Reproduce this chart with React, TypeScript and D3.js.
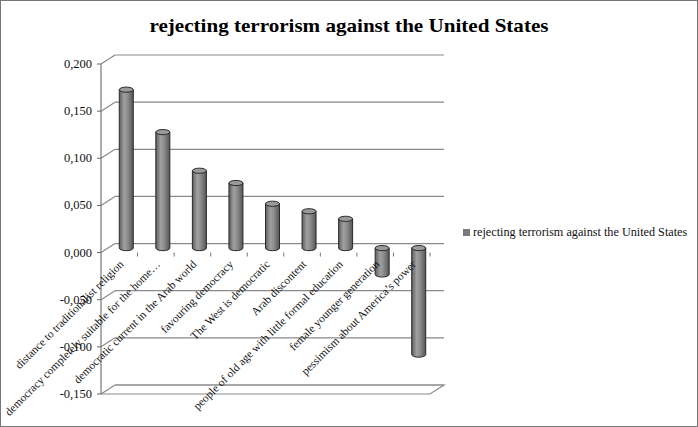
import React from "react";
import * as d3 from "d3";

const categories = [
  "distance to traditionalist religion",
  "democracy completely suitable for the home…",
  "democratic current in the Arab world",
  "favouring democracy",
  "The West is democratic",
  "Arab discontent",
  "people of old age with little formal education",
  "female younger generation",
  "pessimism about America’s power",
];
const values = [0.168, 0.123, 0.082, 0.069, 0.047, 0.039, 0.031, -0.028, -0.113];
const yTicks = [-0.15, -0.1, -0.05, 0, 0.05, 0.1, 0.15, 0.2];
const seriesName = "rejecting terrorism against the United States";
const title = "rejecting terrorism against the United States";

const W = 698;
const H = 427;
const DX = 14;
const DY = -9;
const FONT = "'Liberation Serif', 'DejaVu Serif', serif";

export default function App() {
  const x = d3.scaleBand<string>().domain(categories).range([101, 430]).paddingInner(0).paddingOuter(0);
  const y = d3.scaleLinear().domain([-0.15, 0.2]).range([394, 64]);
  const fmt = (v: number) => d3.format(".3f")(v).replace(".", ",").replace("−", "-");
  const bw = 14;
  const ry = 2.6;
  const x0 = 101;
  const x1 = 430;

  return (
    <svg width={W} height={H} style={{ position: "fixed", left: 0, top: 0, background: "#fff" }} fontFamily={FONT}>
      <defs>
        <linearGradient id="cyl" x1="0" x2="1" y1="0" y2="0">
          <stop offset="0" stopColor="#5e5e5e" />
          <stop offset="0.35" stopColor="#a0a0a0" />
          <stop offset="0.6" stopColor="#8c8c8c" />
          <stop offset="1" stopColor="#555" />
        </linearGradient>
      </defs>
      <rect x={0.5} y={0.5} width={W - 1} height={H - 1} fill="#fff" stroke="#777" strokeWidth={1} />
      <text x={349} y={32} textAnchor="middle" fontSize={19.5} fontWeight="bold" fill="#000" textLength={399} lengthAdjust="spacingAndGlyphs">
        {title}
      </text>
      {/* back wall gridlines */}
      {yTicks.map((t) => (
        <g key={t}>
          <line x1={x0 + DX} x2={x1 + DX} y1={y(t) + DY} y2={y(t) + DY} stroke="#8a8a8a" strokeWidth={1.2} />
          <line x1={x0} x2={x0 + DX} y1={y(t)} y2={y(t) + DY} stroke="#8a8a8a" strokeWidth={1.2} />
          <line x1={x0 - 4} x2={x0} y1={y(t)} y2={y(t)} stroke="#666" strokeWidth={1} />
          <text x={92} y={y(t) + 4} textAnchor="end" fontSize={12.5} fill="#111">
            {fmt(t)}
          </text>
        </g>
      ))}
      {/* floor */}
      <path
        d={`M${x0},${y(-0.15)} L${x1},${y(-0.15)} L${x1 + DX},${y(-0.15) + DY} L${x0 + DX},${y(-0.15) + DY}`}
        fill="none"
        stroke="#8a8a8a"
        strokeWidth={1.2}
      />
      {/* y axis */}
      <line x1={x0} x2={x0} y1={y(0.2)} y2={y(-0.15)} stroke="#777" strokeWidth={1.2} />
      {/* category ticks */}
      {categories.map((c) => (
        <line key={c} x1={(x(c) as number) + x.bandwidth()} x2={(x(c) as number) + x.bandwidth()} y1={y(0)} y2={y(0) + 4} stroke="#777" strokeWidth={1} />
      ))}
      {/* bars */}
      {categories.map((c, i) => {
        const v = values[i];
        const cx = (x(c) as number) + x.bandwidth() / 2 + DX / 2;
        const y0 = y(0) + DY / 2;
        const yv = y(v) + DY / 2;
        const top = Math.min(y0, yv);
        const bot = Math.max(y0, yv);
        const l = cx - bw / 2;
        const r = cx + bw / 2;
        return (
          <g key={c}>
            <path
              d={`M${l},${top} L${l},${bot} A${bw / 2},${ry} 0 0 0 ${r},${bot} L${r},${top} Z`}
              fill="url(#cyl)"
              stroke="#2a2a2a"
              strokeWidth={1}
            />
            <ellipse cx={cx} cy={top} rx={bw / 2} ry={ry} fill="#9a9a9a" stroke="#2a2a2a" strokeWidth={1} />
          </g>
        );
      })}
      {/* category labels */}
      {categories.map((c) => {
        const cx = (x(c) as number) + x.bandwidth() / 2 + 5;
        const ty = 265;
        return (
          <text key={c} x={cx} y={ty} textAnchor="end" fontSize={11.4} fill="#111" transform={`rotate(-45 ${cx} ${ty})`}>
            {c}
          </text>
        );
      })}
      {/* legend */}
      <rect x={463} y={229} width={7} height={7} fill="#7a7a7a" />
      <text x={473} y={236} fontSize={12.2} fill="#111">
        {seriesName}
      </text>
    </svg>
  );
}
